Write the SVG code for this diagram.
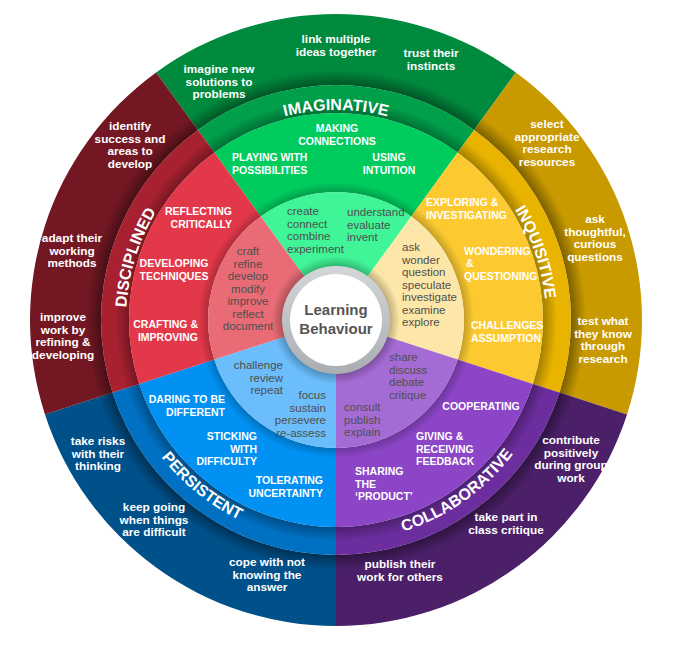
<svg xmlns="http://www.w3.org/2000/svg" width="686" height="647" viewBox="0 0 686 647">
<defs>
<radialGradient id="sh3" gradientUnits="userSpaceOnUse" cx="336" cy="320" r="250"><stop offset="0.94" stop-color="#000" stop-opacity="0.38"/><stop offset="1" stop-color="#000" stop-opacity="0"/></radialGradient>
<radialGradient id="sh2" gradientUnits="userSpaceOnUse" cx="336" cy="320" r="221"><stop offset="0.936" stop-color="#000" stop-opacity="0.3"/><stop offset="1" stop-color="#000" stop-opacity="0"/></radialGradient>
<radialGradient id="sh1" gradientUnits="userSpaceOnUse" cx="336" cy="320" r="138"><stop offset="0.927" stop-color="#000" stop-opacity="0.22"/><stop offset="1" stop-color="#000" stop-opacity="0"/></radialGradient>
<radialGradient id="sh0" gradientUnits="userSpaceOnUse" cx="336" cy="320" r="64"><stop offset="0.84" stop-color="#000" stop-opacity="0.25"/><stop offset="1" stop-color="#000" stop-opacity="0"/></radialGradient>
<linearGradient id="ring" x1="0" y1="0" x2="0" y2="1"><stop offset="0" stop-color="#d4d7da"/><stop offset="1" stop-color="#a9aeb2"/></linearGradient>
<path id="arcIma" d="M 212.57 150.11 A 210 210 0 0 1 459.43 150.11"/>
<path id="arcInq" d="M 459.43 150.11 A 210 210 0 0 1 535.72 384.89"/>
<path id="arcDis" d="M 136.28 384.89 A 210 210 0 0 1 212.57 150.11"/>
<path id="arcCol" d="M 336 542 A 222 222 0 0 0 547.13 388.6"/>
<path id="arcPer" d="M 124.87 388.6 A 222 222 0 0 0 336 542"/>
</defs>
<style>
text{font-family:"Liberation Sans",Arial,sans-serif}
.o{fill:#fff;font-size:11.8px;font-weight:bold;text-anchor:middle}
.m{fill:#fff;font-size:10.5px;font-weight:bold}
.mm{text-anchor:middle}
.me{text-anchor:end}
.p{fill:#4f4f4f;font-size:11.5px}
.b{fill:#fff;font-size:16px;font-weight:bold;text-anchor:middle}
.s3{fill:url(#sh3)}
.s2{fill:url(#sh2)}
.s1{fill:url(#sh1)}
</style>

<g id="imaginative">
<path fill="#008a3e" d="M 156.14 72.44 A 306 306 0 0 1 515.86 72.44 L 474.13 129.88 A 235 235 0 0 0 197.87 129.88 Z"/>
<path class="s3" d="M 156.14 72.44 A 306 306 0 0 1 515.86 72.44 L 474.13 129.88 A 235 235 0 0 0 197.87 129.88 Z"/>
<path fill="#00a04b" d="M 197.87 129.88 A 235 235 0 0 1 474.13 129.88 L 457.67 152.53 A 207 207 0 0 0 214.33 152.53 Z"/>
<path class="s2" d="M 197.87 129.88 A 235 235 0 0 1 474.13 129.88 L 457.67 152.53 A 207 207 0 0 0 214.33 152.53 Z"/>
<path fill="#00cc5e" d="M 214.33 152.53 A 207 207 0 0 1 457.67 152.53 L 411.24 216.45 A 128 128 0 0 0 260.76 216.45 Z"/>
<path class="s1" d="M 214.33 152.53 A 207 207 0 0 1 457.67 152.53 L 411.24 216.45 A 128 128 0 0 0 260.76 216.45 Z"/>
<path fill="#40f598" d="M 260.76 216.45 A 128 128 0 0 1 411.24 216.45 L 365.39 279.55 A 50 50 0 0 0 306.61 279.55 Z"/>
<text class="b"><textPath href="#arcIma" startOffset="50%">IMAGINATIVE</textPath></text>
<text class="o"><tspan x="219" y="73">imagine new</tspan><tspan x="219" y="85.5">solutions to</tspan><tspan x="219" y="98">problems</tspan></text>
<text class="o"><tspan x="336" y="43">link multiple</tspan><tspan x="336" y="55.5">ideas together</tspan></text>
<text class="o"><tspan x="431" y="57">trust their</tspan><tspan x="431" y="69.5">instincts</tspan></text>
<text class="m mm"><tspan x="337" y="132">MAKING</tspan><tspan x="337" y="144.5">CONNECTIONS</tspan></text>
<text class="m"><tspan x="232" y="161">PLAYING WITH</tspan><tspan x="232" y="173.5">POSSIBILITIES</tspan></text>
<text class="m mm"><tspan x="389" y="161">USING</tspan><tspan x="389" y="173.5">INTUITION</tspan></text>
<text class="p"><tspan x="287" y="215">create</tspan><tspan x="287" y="227.5">connect</tspan><tspan x="287" y="240">combine</tspan><tspan x="287" y="252.5">experiment</tspan></text>
<text class="p"><tspan x="347" y="216">understand</tspan><tspan x="347" y="228.5">evaluate</tspan><tspan x="347" y="241">invent</tspan></text>
</g>

<g id="inquisitive">
<path fill="#c89a00" d="M 515.86 72.44 A 306 306 0 0 1 627.02 414.56 L 559.5 392.62 A 235 235 0 0 0 474.13 129.88 Z"/>
<path class="s3" d="M 515.86 72.44 A 306 306 0 0 1 627.02 414.56 L 559.5 392.62 A 235 235 0 0 0 474.13 129.88 Z"/>
<path fill="#e9b400" d="M 474.13 129.88 A 235 235 0 0 1 559.5 392.62 L 532.87 383.97 A 207 207 0 0 0 457.67 152.53 Z"/>
<path class="s2" d="M 474.13 129.88 A 235 235 0 0 1 559.5 392.62 L 532.87 383.97 A 207 207 0 0 0 457.67 152.53 Z"/>
<path fill="#fcca30" d="M 457.67 152.53 A 207 207 0 0 1 532.87 383.97 L 457.74 359.55 A 128 128 0 0 0 411.24 216.45 Z"/>
<path class="s1" d="M 457.67 152.53 A 207 207 0 0 1 532.87 383.97 L 457.74 359.55 A 128 128 0 0 0 411.24 216.45 Z"/>
<path fill="#fde7a8" d="M 411.24 216.45 A 128 128 0 0 1 457.74 359.55 L 383.55 335.45 A 50 50 0 0 0 365.39 279.55 Z"/>
<text class="b"><textPath href="#arcInq" startOffset="49%">INQUISITIVE</textPath></text>
<text class="o"><tspan x="547" y="128">select</tspan><tspan x="547" y="140.5">appropriate</tspan><tspan x="547" y="153">research</tspan><tspan x="547" y="165.5">resources</tspan></text>
<text class="o"><tspan x="595" y="223">ask</tspan><tspan x="595" y="235.5">thoughtful,</tspan><tspan x="595" y="248">curious</tspan><tspan x="595" y="260.5">questions</tspan></text>
<text class="o"><tspan x="603" y="325">test what</tspan><tspan x="603" y="337.5">they know</tspan><tspan x="603" y="350">through</tspan><tspan x="603" y="362.5">research</tspan></text>
<text class="m"><tspan x="426" y="206">EXPLORING &amp;</tspan><tspan x="426" y="218.5">INVESTIGATING</tspan></text>
<text class="m"><tspan x="464" y="255">WONDERING</tspan><tspan x="466" y="267">&amp;</tspan><tspan x="464" y="279.5">QUESTIONING</tspan></text>
<text class="m"><tspan x="471" y="329">CHALLENGES</tspan><tspan x="471" y="341.5">ASSUMPTION</tspan></text>
<text class="p"><tspan x="402" y="251">ask</tspan><tspan x="402" y="263.5">wonder</tspan><tspan x="402" y="276">question</tspan><tspan x="402" y="288.5">speculate</tspan><tspan x="402" y="301">investigate</tspan><tspan x="402" y="313.5">examine</tspan><tspan x="402" y="326">explore</tspan></text>
</g>

<g id="collaborative">
<path fill="#4b2069" d="M 627.02 414.56 A 306 306 0 0 1 336 626 L 336 555 A 235 235 0 0 0 559.5 392.62 Z"/>
<path class="s3" d="M 627.02 414.56 A 306 306 0 0 1 336 626 L 336 555 A 235 235 0 0 0 559.5 392.62 Z"/>
<path fill="#6c2d9e" d="M 559.5 392.62 A 235 235 0 0 1 336 555 L 336 527 A 207 207 0 0 0 532.87 383.97 Z"/>
<path class="s2" d="M 559.5 392.62 A 235 235 0 0 1 336 555 L 336 527 A 207 207 0 0 0 532.87 383.97 Z"/>
<path fill="#8c45c6" d="M 532.87 383.97 A 207 207 0 0 1 336 527 L 336 448 A 128 128 0 0 0 457.74 359.55 Z"/>
<path class="s1" d="M 532.87 383.97 A 207 207 0 0 1 336 527 L 336 448 A 128 128 0 0 0 457.74 359.55 Z"/>
<path fill="#a46bd4" d="M 457.74 359.55 A 128 128 0 0 1 336 448 L 336 370 A 50 50 0 0 0 383.55 335.45 Z"/>
<text class="b"><textPath href="#arcCol" startOffset="49%">COLLABORATIVE</textPath></text>
<text class="o"><tspan x="571" y="444">contribute</tspan><tspan x="571" y="456.5">positively</tspan><tspan x="571" y="469">during group</tspan><tspan x="571" y="481.5">work</tspan></text>
<text class="o"><tspan x="506" y="521">take part in</tspan><tspan x="506" y="533.5">class critique</tspan></text>
<text class="o"><tspan x="400" y="568">publish their</tspan><tspan x="400" y="580.5">work for others</tspan></text>
<text class="m mm"><tspan x="481" y="410">COOPERATING</tspan></text>
<text class="m"><tspan x="416" y="440">GIVING &amp;</tspan><tspan x="416" y="452.5">RECEIVING</tspan><tspan x="416" y="465">FEEDBACK</tspan></text>
<text class="m"><tspan x="355" y="475">SHARING</tspan><tspan x="355" y="487.5">THE</tspan><tspan x="355" y="500">‘PRODUCT’</tspan></text>
<text class="p"><tspan x="389" y="361">share</tspan><tspan x="389" y="373.5">discuss</tspan><tspan x="389" y="386">debate</tspan><tspan x="389" y="398.5">critique</tspan></text>
<text class="p"><tspan x="344" y="411">consult</tspan><tspan x="344" y="423.5">publish</tspan><tspan x="344" y="436">explain</tspan></text>
</g>

<g id="persistent">
<path fill="#00508a" d="M 336 626 A 306 306 0 0 1 44.98 414.56 L 112.5 392.62 A 235 235 0 0 0 336 555 Z"/>
<path class="s3" d="M 336 626 A 306 306 0 0 1 44.98 414.56 L 112.5 392.62 A 235 235 0 0 0 336 555 Z"/>
<path fill="#0070c2" d="M 336 555 A 235 235 0 0 1 112.5 392.62 L 139.13 383.97 A 207 207 0 0 0 336 527 Z"/>
<path class="s2" d="M 336 555 A 235 235 0 0 1 112.5 392.62 L 139.13 383.97 A 207 207 0 0 0 336 527 Z"/>
<path fill="#0091f2" d="M 336 527 A 207 207 0 0 1 139.13 383.97 L 214.26 359.55 A 128 128 0 0 0 336 448 Z"/>
<path class="s1" d="M 336 527 A 207 207 0 0 1 139.13 383.97 L 214.26 359.55 A 128 128 0 0 0 336 448 Z"/>
<path fill="#6bbdfb" d="M 336 448 A 128 128 0 0 1 214.26 359.55 L 288.45 335.45 A 50 50 0 0 0 336 370 Z"/>
<text class="b"><textPath href="#arcPer" startOffset="46%">PERSISTENT</textPath></text>
<text class="o"><tspan x="98" y="445">take risks</tspan><tspan x="98" y="457.5">with their</tspan><tspan x="98" y="470">thinking</tspan></text>
<text class="o"><tspan x="154" y="511">keep going</tspan><tspan x="154" y="523.5">when things</tspan><tspan x="154" y="536">are difficult</tspan></text>
<text class="o"><tspan x="267" y="566">cope with not</tspan><tspan x="267" y="578.5">knowing the</tspan><tspan x="267" y="591">answer</tspan></text>
<text class="m me"><tspan x="225" y="403">DARING TO BE</tspan><tspan x="225" y="415.5">DIFFERENT</tspan></text>
<text class="m me"><tspan x="257" y="440">STICKING</tspan><tspan x="257" y="452.5">WITH</tspan><tspan x="257" y="465">DIFFICULTY</tspan></text>
<text class="m me"><tspan x="323" y="484">TOLERATING</tspan><tspan x="323" y="496.5">UNCERTAINTY</tspan></text>
<text class="p me"><tspan x="283" y="369">challenge</tspan><tspan x="283" y="381.5">review</tspan><tspan x="283" y="394">repeat</tspan></text>
<text class="p me"><tspan x="326" y="399">focus</tspan><tspan x="326" y="411.5">sustain</tspan><tspan x="326" y="424">persevere</tspan><tspan x="326" y="436.5">re-assess</tspan></text>
</g>

<g id="disciplined">
<path fill="#731823" d="M 44.98 414.56 A 306 306 0 0 1 156.14 72.44 L 197.87 129.88 A 235 235 0 0 0 112.5 392.62 Z"/>
<path class="s3" d="M 44.98 414.56 A 306 306 0 0 1 156.14 72.44 L 197.87 129.88 A 235 235 0 0 0 112.5 392.62 Z"/>
<path fill="#a82131" d="M 112.5 392.62 A 235 235 0 0 1 197.87 129.88 L 214.33 152.53 A 207 207 0 0 0 139.13 383.97 Z"/>
<path class="s2" d="M 112.5 392.62 A 235 235 0 0 1 197.87 129.88 L 214.33 152.53 A 207 207 0 0 0 139.13 383.97 Z"/>
<path fill="#e3384a" d="M 139.13 383.97 A 207 207 0 0 1 214.33 152.53 L 260.76 216.45 A 128 128 0 0 0 214.26 359.55 Z"/>
<path class="s1" d="M 139.13 383.97 A 207 207 0 0 1 214.33 152.53 L 260.76 216.45 A 128 128 0 0 0 214.26 359.55 Z"/>
<path fill="#e86b75" d="M 214.26 359.55 A 128 128 0 0 1 260.76 216.45 L 306.61 279.55 A 50 50 0 0 0 288.45 335.45 Z"/>
<text class="b"><textPath href="#arcDis" startOffset="49%">DISCIPLINED</textPath></text>
<text class="o"><tspan x="130" y="130">identify</tspan><tspan x="130" y="142.5">success and</tspan><tspan x="130" y="155">areas to</tspan><tspan x="130" y="167.5">develop</tspan></text>
<text class="o"><tspan x="72" y="242">adapt their</tspan><tspan x="72" y="254.5">working</tspan><tspan x="72" y="267">methods</tspan></text>
<text class="o"><tspan x="63" y="321">improve</tspan><tspan x="63" y="333.5">work by</tspan><tspan x="63" y="346">refining &amp;</tspan><tspan x="63" y="358.5">developing</tspan></text>
<text class="m me"><tspan x="232" y="215">REFLECTING</tspan><tspan x="232" y="227.5">CRITICALLY</tspan></text>
<text class="m mm"><tspan x="174" y="267">DEVELOPING</tspan><tspan x="174" y="279.5">TECHNIQUES</tspan></text>
<text class="m me"><tspan x="198" y="328">CRAFTING &amp;</tspan><tspan x="198" y="340.5">IMPROVING</tspan></text>
<text class="p mm"><tspan x="248" y="255">craft</tspan><tspan x="248" y="267.5">refine</tspan><tspan x="248" y="280">develop</tspan><tspan x="248" y="292.5">modify</tspan><tspan x="248" y="305">improve</tspan><tspan x="248" y="317.5">reflect</tspan><tspan x="248" y="330">document</tspan></text>
</g>

<g id="centre">
<circle cx="336" cy="320" r="64" fill="url(#sh0)"/>
<circle cx="336" cy="320" r="54" fill="url(#ring)"/>
<circle cx="336" cy="320" r="46" fill="#fff"/>
<text font-size="15" font-weight="bold" fill="#555" text-anchor="middle"><tspan x="336" y="315">Learning</tspan><tspan x="336" y="334">Behaviour</tspan></text>
</g>
</svg>
